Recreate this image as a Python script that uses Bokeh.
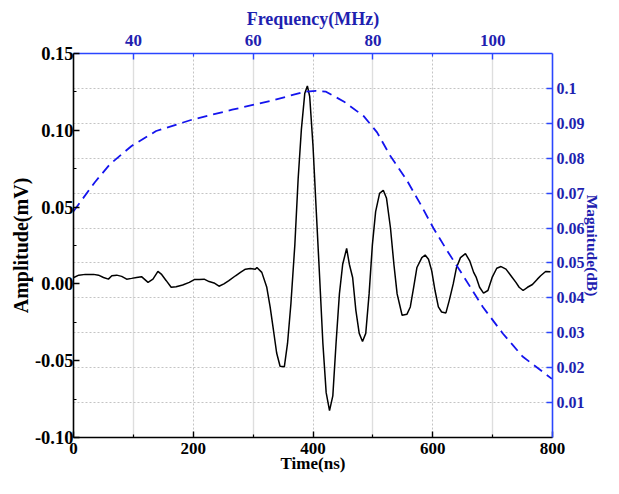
from bokeh.plotting import figure
from bokeh.models import (Range1d, LinearAxis, FixedTicker, Grid,
                          PrintfTickFormatter, CustomJSTickFormatter)
from bokeh.embed import file_html
from bokeh.resources import INLINE

# ---- time-domain signal (ns, mV) ----
t_pre = [0.5, 8.8, 19.8, 33.6, 41.8, 50.1, 58.3, 64.0, 72.2, 80.5, 88.8, 97.0,
         105.3, 113.6, 124.5, 132.7, 141.0, 146.6, 154.9, 163.1, 171.4, 182.3,
         193.4, 201.7, 209.9, 218.2, 226.5, 234.7, 243.0, 251.2, 259.5, 270.6,
         278.8, 287.1, 295.4, 303.6]
a_pre = [0.0042, 0.0057, 0.0062, 0.0062, 0.0057, 0.0042, 0.0031, 0.0053, 0.0057,
         0.0049, 0.0031, 0.0036, 0.0042, 0.0047, 0.0010, 0.0031, 0.0081, 0.0064,
         0.0021, -0.0022, -0.0018, -0.0007, 0.0010, 0.0028, 0.0028, 0.0031,
         0.0015, 0.0006, -0.0015, 0.0000, 0.0021, 0.0053, 0.0075, 0.0096, 0.0100,
         0.0096]
t_burst = [306.3, 314.5, 322.8, 328.4, 333.9, 339.3, 345.0, 352.1, 357.5, 363.1,
           369.7, 375.2, 380.6, 386.3, 390.6, 394.5, 400.0, 405.5, 411.1, 416.5,
           422.0, 427.6, 433.1, 438.5, 444.1, 449.6, 456.2, 460.7, 466.2, 471.6,
           477.2, 482.7, 488.1, 493.7, 499.2, 504.6, 511.2, 517.4, 522.8, 529.4,
           535.1]
a_burst = [0.0107, 0.0075, -0.0022, -0.015, -0.030, -0.045, -0.0536, -0.054,
           -0.0386, -0.0129, 0.0256, 0.0685, 0.1006, 0.1242, 0.1289, 0.122, 0.0899,
           0.0471, 0.0042, -0.0386, -0.0708, -0.0825, -0.0729, -0.0386, -0.0065,
           0.0128, 0.0231, 0.0128, 0.0042, -0.0172, -0.0322, -0.0375, -0.0322,
           -0.0065, 0.0256, 0.0471, 0.0589, 0.061, 0.0557, 0.0364, 0.0128]
t_tail = [540.5, 548.8, 557.0, 562.5, 568.1, 573.6, 581.8, 587.3, 592.9, 598.3,
          603.8, 609.4, 614.8, 622.0, 627.6, 634.2, 639.7, 646.3, 654.6, 661.7,
          668.3, 672.7, 678.2, 684.8, 692.1, 699.2, 706.9, 714.1, 722.3, 730.6,
          738.9, 744.3, 750.9, 758.2, 766.5, 774.7, 780.2, 788.5, 796.7]
a_tail = [-0.0065, -0.0204, -0.0197, -0.015, -0.0022, 0.0107, 0.0171, 0.0188,
          0.016, 0.0085, -0.0043, -0.015, -0.0183, -0.0189, -0.0107, 0.0, 0.0107,
          0.0171, 0.0197, 0.015, 0.0075, 0.0042, -0.0022, -0.006, -0.0043, 0.0042,
          0.0102, 0.0113, 0.0096, 0.0053, 0.001, -0.0022, -0.0043, -0.0022,
          -0.0004, 0.0031, 0.0053, 0.0081, 0.0079]

# ---- spectrum (MHz, dB) ----
freq_mhz = [30.0, 33.6, 36.1, 39.7, 43.8, 49.9, 56.5, 63.1, 68.5, 70.5, 72.1,
            75.2, 78.5, 80.7, 82.9, 85.7, 87.9, 90.1, 92.3, 95.1, 98.4, 101.7,
            105.0, 109.9]
magnitude = [0.0648, 0.0732, 0.0783, 0.0835, 0.0878, 0.0911, 0.0939, 0.0965,
             0.0990, 0.0993, 0.0991, 0.0962, 0.0920, 0.0874, 0.0807, 0.0736,
             0.0670, 0.0600, 0.0538, 0.0463, 0.0373, 0.0298, 0.0232, 0.0168]

time_major = [0, 200, 400, 600, 800]
time_minor = [100, 300, 500, 700]
amp_major = [-0.10, -0.05, 0.0, 0.05, 0.10, 0.15]
amp_minor = [-0.075, -0.025, 0.025, 0.075, 0.125]
freq_major = [40, 60, 80, 100]
freq_minor = [50, 70, 90]
mag_ticks = [0.01, 0.02, 0.03, 0.04, 0.05, 0.06, 0.07, 0.08, 0.09, 0.10]

time_ns = t_pre + t_burst + t_tail
amp_mv = a_pre + a_burst + a_tail

FONT = "Liberation Serif"
BLUE_TXT = "#1f1fb0"
BLUE_AX = "#2a46ff"
BLUE_LINE = "#1414ee"

p = figure(width=603, height=478, output_backend="svg", toolbar_location=None,
           x_range=Range1d(0, 800), y_range=Range1d(-0.10, 0.15))
p.extra_x_ranges = {"freq": Range1d(30, 110)}
p.extra_y_ranges = {"mag": Range1d(0, 0.11)}
p.min_border_left = 73
p.min_border_right = 46
p.min_border_top = 53
p.min_border_bottom = 41
p.outline_line_color = None
p.background_fill_color = "white"
p.border_fill_color = "white"

# grids
p.ygrid.visible = False
p.xgrid.ticker = FixedTicker(ticks=time_minor)
p.xgrid.grid_line_color = "#dedede"
p.xgrid.grid_line_width = 1.4
p.add_layout(Grid(dimension=0, ticker=FixedTicker(ticks=[200, 400, 600]),
                  grid_line_color="#c4c4c4", grid_line_dash="2 2",
                  grid_line_width=1))
p.add_layout(Grid(dimension=1, y_range_name="mag",
                  ticker=FixedTicker(ticks=mag_ticks),
                  grid_line_color="#c4c4c4", grid_line_dash="2 2",
                  grid_line_width=1))


def style(ax, color, tick_size, title_size, lab_off, title_off, line_color):
    ax.axis_line_color = line_color
    ax.axis_line_width = 1.6
    ax.major_tick_line_color = line_color
    ax.minor_tick_line_color = line_color
    ax.major_tick_line_width = 1.4
    ax.minor_tick_line_width = 1.2
    ax.major_tick_in = 6
    ax.major_tick_out = 0
    ax.minor_tick_in = 3
    ax.minor_tick_out = 0
    ax.major_label_text_font = FONT
    ax.major_label_text_font_style = "bold"
    ax.major_label_text_font_size = tick_size
    ax.major_label_text_color = color
    ax.major_label_standoff = lab_off
    ax.axis_label_text_font = FONT
    ax.axis_label_text_font_style = "bold"
    ax.axis_label_text_font_size = title_size
    ax.axis_label_text_color = color
    ax.axis_label_standoff = title_off


xb = p.xaxis[0]
xb.ticker = FixedTicker(ticks=time_major, minor_ticks=time_minor)
xb.axis_label = "Time(ns)"
style(xb, "black", "17px", "17px", 5, -3, "black")

yl = p.yaxis[0]
yl.ticker = FixedTicker(ticks=amp_major, minor_ticks=amp_minor)
yl.formatter = PrintfTickFormatter(format="%.2f")
yl.axis_label = "Amplitude(mV)"
style(yl, "black", "18.5px", "20px", 0, 0, "black")

xt = LinearAxis(x_range_name="freq",
                ticker=FixedTicker(ticks=freq_major, minor_ticks=freq_minor),
                axis_label="Frequency(MHz)")
style(xt, BLUE_TXT, "17px", "18px", 8, 3, BLUE_AX)
p.add_layout(xt, "above")

yr = LinearAxis(y_range_name="mag", ticker=FixedTicker(ticks=mag_ticks),
                formatter=CustomJSTickFormatter(
                    code="return String(Math.round(tick*100)/100);"),
                axis_label="Magnitude(dB)")
style(yr, BLUE_TXT, "16px", "15.5px", 4, -4, BLUE_AX)
p.add_layout(yr, "right")

p.line(time_ns, amp_mv, line_color="black", line_width=1.5)
p.line(freq_mhz, magnitude, x_range_name="freq", y_range_name="mag",
       line_color=BLUE_LINE, line_width=1.8, line_dash="10 6")

open("out.html", "w").write(file_html(p, INLINE))
